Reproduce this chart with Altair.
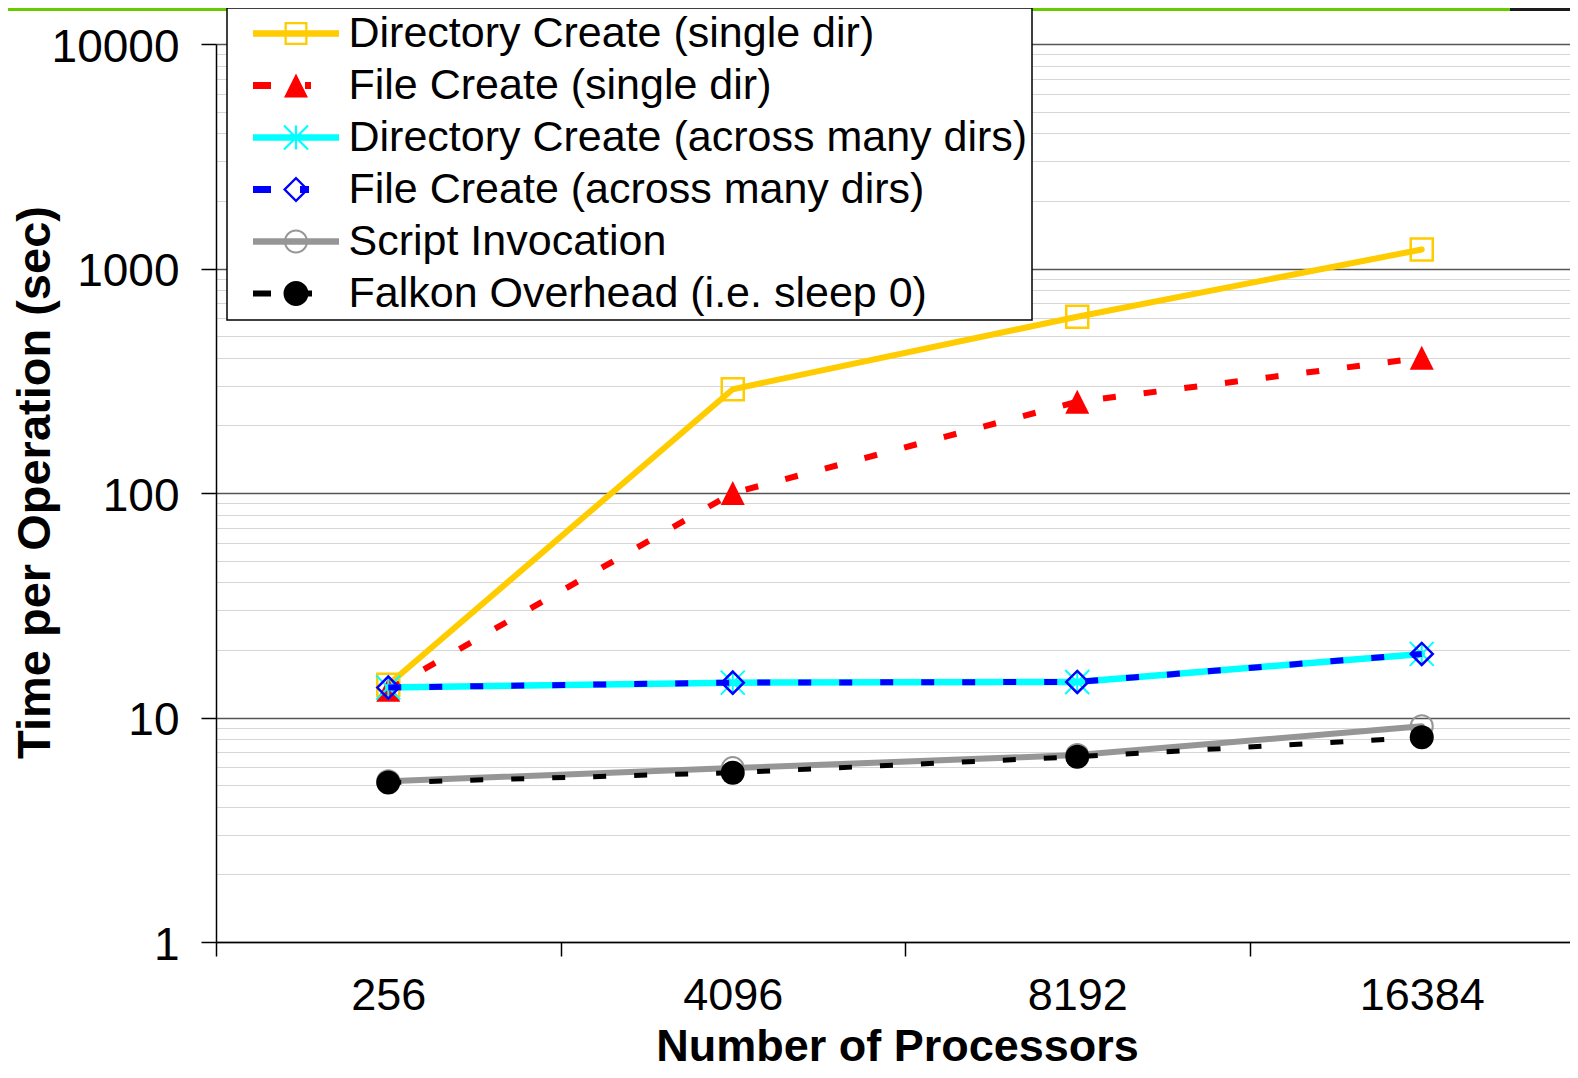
import altair as alt
import pandas as pd

# ---------------- data ----------------
procs = ["256", "4096", "8192", "16384"]
series_names = [
    "Directory Create (single dir)",
    "File Create (single dir)",
    "Directory Create (across many dirs)",
    "File Create (across many dirs)",
    "Script Invocation",
    "Falkon Overhead (i.e. sleep 0)",
]
dir_single = [14.0, 290, 610, 1215]
file_single = [13.3, 100, 255, 400]
dir_many = [13.6, 14.3, 14.4, 19.2]
file_many = [13.6, 14.3, 14.4, 19.2]
script_inv = [5.2, 5.95, 6.8, 9.15]
falkon = [5.13, 5.68, 6.69, 8.16]
all_values = [dir_single, file_single, dir_many, file_many, script_inv, falkon]

colors = ["#FFCC00", "#FF0000", "#00FFFF", "#0000FF", "#969696", "#000000"]

rows = [
    {"series": s, "procs": p, "value": v}
    for s, vals in zip(series_names, all_values)
    for p, v in zip(procs, vals)
]
df = pd.DataFrame(rows)

FONT = "Liberation Sans"
W, H = 1354, 898
BAND = 344.5

major = [1, 10, 100, 1000, 10000]
minor = [m * d for d in [1, 10, 100, 1000] for m in range(2, 10)]
tick_vals = sorted(major + minor)
is_major = "indexof([1,10,100,1000,10000], datum.value) >= 0"

# ---------------- scales / axes ----------------
xscale = alt.Scale(type="band", domain=procs, range=[0, 4 * BAND],
                   paddingInner=0, paddingOuter=0)
yscale = alt.Scale(type="log", domain=[1, 10000], nice=False)

xaxis = alt.Axis(
    title="Number of Processors", tickBand="extent", tickSize=14,
    tickColor="black", tickWidth=1.5, domainColor="black", domainWidth=1.5,
    labelFont=FONT, labelFontSize=45, labelColor="black", labelPadding=17.5,
    labelAngle=0, grid=False,
    titleFont=FONT, titleFontSize=45, titleFontWeight="bold", titleColor="black",
    titleX=681, titleY=118, titleBaseline="alphabetic", titleAlign="center",
)
yaxis = alt.Axis(
    title="Time per Operation (sec)", values=tick_vals, format="d",
    labelExpr=f"{is_major} ? datum.label : ''",
    labelOverlap=False, labelFlush=False,
    grid=True,
    gridColor={"condition": {"test": is_major, "value": "#555555"}, "value": "#d6d6d6"},
    gridWidth={"condition": {"test": is_major, "value": 1.5}, "value": 1.2},
    tickOpacity={"condition": {"test": is_major, "value": 1}, "value": 0},
    tickSize=15, tickColor="black", tickWidth=1.5,
    domainColor="black", domainWidth=1.5,
    labelFont=FONT, labelFontSize=46, labelColor="black", labelPadding=22,
    labelOffset=3,
    titleFont=FONT, titleFontSize=47, titleFontWeight="bold", titleColor="black",
    titleX=-167, titleY=438, titleAngle=270, titleBaseline="alphabetic",
    titleAlign="center",
)

X = alt.X("procs:N", scale=xscale, axis=xaxis, bandPosition=0.5)
Y = alt.Y("value:Q", scale=yscale, axis=yaxis)

# ---------------- styles ----------------
line_styles = [
    dict(strokeWidth=6, strokeCap="round"),
    dict(strokeWidth=6, strokeDash=[13, 28]),
    dict(strokeWidth=6.5, strokeCap="round"),
    dict(strokeWidth=6, strokeDash=[13, 28]),
    dict(strokeWidth=6, strokeCap="round"),
    dict(strokeWidth=5, strokeDash=[13, 28]),
]
marker_styles = [
    dict(shape="square", size=484, filled=False, strokeWidth=2.5),
    dict(shape="M0,-1L1,1L-1,1Z", size=576, filled=True, strokeWidth=0),
    dict(shape="M-1,-1L1,1M-1,1L1,-1M0,-1L0,1", size=576, filled=False, strokeWidth=2),
    dict(shape="diamond", size=484, filled=False, strokeWidth=2.5),
    dict(shape="circle", size=484, filled=False, strokeWidth=2),
    dict(shape="circle", size=576, filled=True, strokeWidth=0),
]

# ---------------- legend symbol paths (line + marker glyphs) ----------------
LEG_FONT = 43
U = LEG_FONT / 2.0  # px per path unit


def P(v):
    return f"{round(v / U, 4)}"


def rect(x0, x1, hh):
    return f"M{P(x0)},{P(-hh)}H{P(x1)}V{P(hh)}H{P(x0)}Z"


def sq_ring(r, t):
    ri = r - t
    return (f"M{P(-r)},{P(-r)}H{P(r)}V{P(r)}H{P(-r)}Z"
            f"M{P(-ri)},{P(-ri)}V{P(ri)}H{P(ri)}V{P(-ri)}Z")


def diamond_ring(r, t):
    ri = r - t * 1.414
    return (f"M0,{P(-r)}L{P(r)},0L0,{P(r)}L{P(-r)},0Z"
            f"M0,{P(-ri)}L{P(-ri)},0L0,{P(ri)}L{P(ri)},0Z")


def circle(r, cw=True):
    f = 1 if cw else 0
    return f"M{P(-r)},0A{P(r)},{P(r)} 0 1,{f} {P(r)},0A{P(r)},{P(r)} 0 1,{f} {P(-r)},0Z"


def triangle(r):
    return f"M0,{P(-r)}L{P(r)},{P(r)}L{P(-r)},{P(r)}Z"


def poly(pts):
    s = "M" + "L".join(f"{P(x)},{P(y)}" for x, y in pts)
    return s + "Z"


def asterisk(a, hw):
    d = hw / 1.414
    p1 = poly([(-a + d, -a - d), (a + d, a - d), (a - d, a + d), (-a - d, -a + d)])
    p2 = poly([(-a - d, a - d), (a - d, -a - d), (a + d, -a + d), (-a + d, a + d)])
    p3 = poly([(-hw, -a), (hw, -a), (hw, a), (-hw, a)])
    return p1 + p2 + p3


legend_paths = [
    rect(-43, 43, 3.3) + sq_ring(11.5, 2.3),
    rect(-43, -25, 3.5) + triangle(12) + rect(9, 15, 3.5),
    rect(-43, 43, 3.3) + asterisk(12, 1.1),
    rect(-43, -25, 3.5) + diamond_ring(13, 2.3) + rect(4, 13, 3.5),
    rect(-43, 43, 3.3) + circle(12) + circle(10, cw=False),
    rect(-43, -25, 3) + circle(12.5) + rect(9, 16, 3),
]

legend = alt.Legend(
    title=None, orient="none", legendX=11, legendY=-36, padding=4,
    fillColor="white", strokeColor="black", rowPadding=8,
    symbolSize=LEG_FONT * LEG_FONT, symbolOffset=43.5, labelOffset=31,
    symbolStrokeWidth=0, symbolOpacity=1,
    labelFont=FONT, labelFontSize=LEG_FONT, labelColor="black", labelLimit=2000,
)

legend_layer = (
    alt.Chart(df)
    .transform_filter("false")
    .mark_point(filled=True, opacity=1, strokeWidth=0)
    .encode(
        shape=alt.Shape("series:N", scale=alt.Scale(domain=series_names, range=legend_paths), legend=legend),
        color=alt.Color("series:N", scale=alt.Scale(domain=series_names, range=colors), legend=legend),
    )
)

# decorative top strip
strip_df = pd.DataFrame({"k": [0]})
strip = alt.Chart(strip_df).mark_rect(color="#66CC00").encode(
    x=alt.value(-208), x2=alt.value(W), y=alt.value(-36), y2=alt.value(-33)
)
strip_dark = alt.Chart(strip_df).mark_rect(color="#1c1c1c").encode(
    x=alt.value(1294), x2=alt.value(W), y=alt.value(-36), y2=alt.value(-33)
)

layers = [strip, strip_dark, legend_layer]
for name, col, ls, ms in zip(series_names, colors, line_styles, marker_styles):
    base = alt.Chart(df).transform_filter(alt.datum.series == name)
    layers.append(base.mark_line(color=col, **ls).encode(x=X, y=Y))
    layers.append(base.mark_point(color=col, opacity=1, **ms).encode(x=X, y=Y))

chart = (
    alt.layer(*layers)
    .properties(
        width=W, height=H,
        autosize=alt.AutoSizeParams(type="none"),
        padding={"left": 208, "top": 36, "right": 0, "bottom": 128},
    )
    .configure_view(stroke=None)
    .configure_legend(strokeWidth=1.5)
)

chart.save("out.html", embed_options={"renderer": "svg", "actions": False})
